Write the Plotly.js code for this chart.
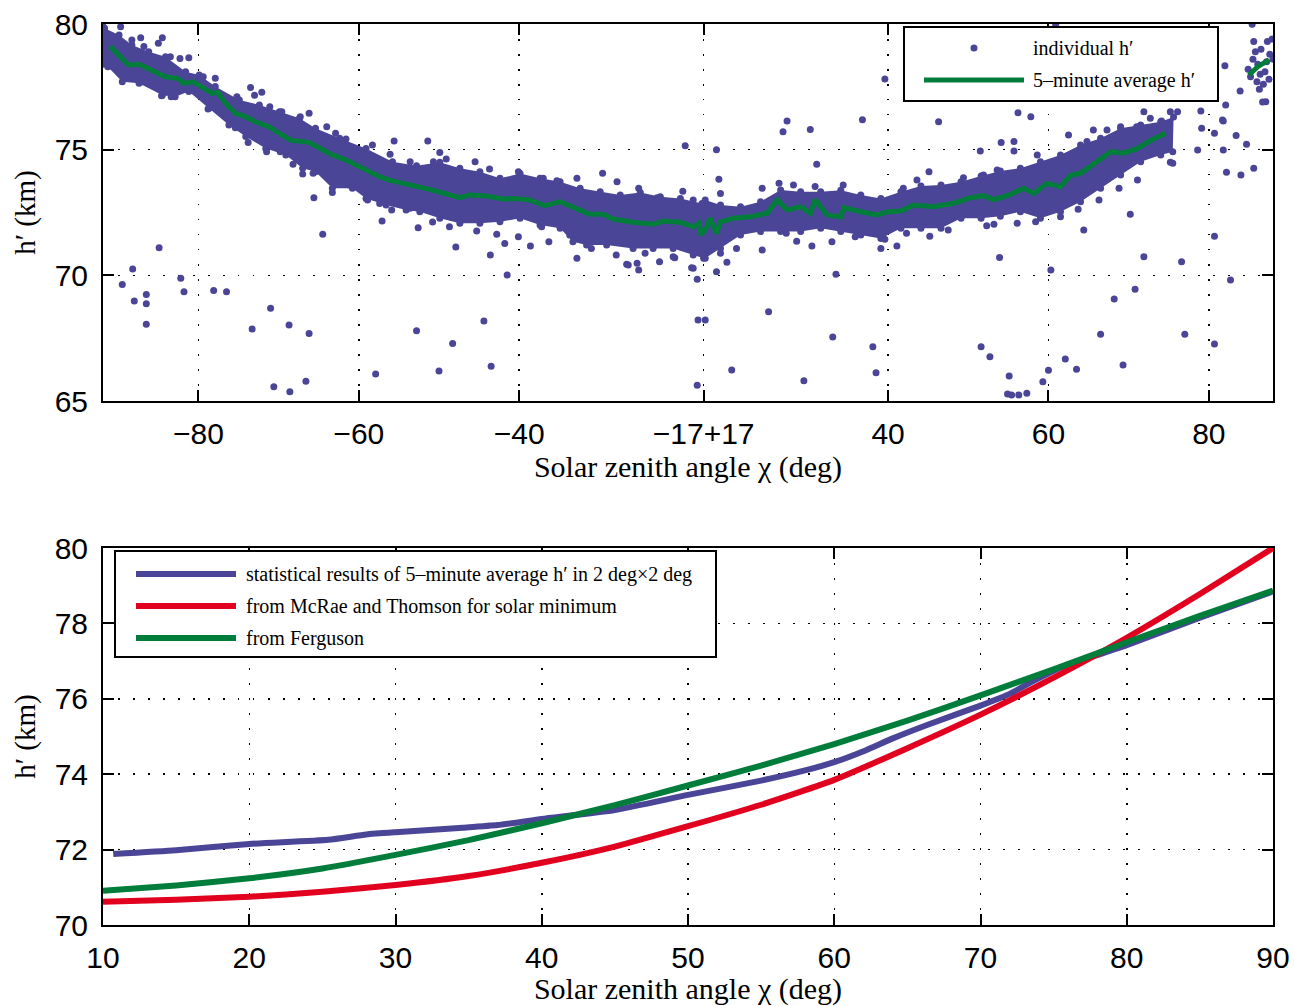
<!DOCTYPE html>
<html>
<head>
<meta charset="utf-8">
<script src="https://cdn.plot.ly/plotly-3.0.1.min.js"></script>
<style>html,body{margin:0;padding:0;background:#fff;}#chart{width:1294px;height:1006px;}</style>
</head>
<body>
<div id="chart"></div>
<script>
// ---------- Top panel: individual h' (dense band envelope) ----------
const bandUpperChi = [-91.9,-91.7,-89.9,-88.3,-86.2,-84.1,-81.6,-79.9,-77.9,-74.9,-72.4,-69.9,-67.4,-65.4,-62.4,-59.1,-55.8,-52.8,-49.9,-47.4,-44.9,-42.4,-39.9,-37.4,-34.9,-32.4,-29.9,-27.4,-24.9,-22.4,-19.9,-17.2,
  17.2,19.1,21.6,24.1,26.6,29.1,31.6,34.1,36.6,39.1,41.6,44.1,46.6,49.1,51.6,54.0,56.5,59.0,61.5,64.0,66.5,69.0,71.5,74.0,75.6];
const bandUpperH = [79.9,79.83,79.56,79.16,78.90,78.70,78.10,77.97,77.51,76.98,76.78,76.51,76.25,75.85,75.45,75.05,74.52,74.36,74.50,74.26,74.12,73.86,74.05,73.86,73.72,73.46,73.33,73.20,73.30,73.13,73.06,72.86,
  73.00,72.80,72.73,72.93,73.40,73.33,73.33,73.39,73.20,73.06,73.33,73.55,73.59,73.72,73.95,74.15,74.26,74.52,74.79,75.19,75.45,75.85,75.98,76.11,76.30];
const bandLowerChi = [-91.9,-91.3,-89.5,-87.4,-84.5,-82.9,-81.2,-78.7,-76.2,-74.1,-71.6,-69.1,-67.0,-65.4,-63.3,-60.8,-59.1,-56.6,-54.1,-52.4,-49.9,-47.4,-44.9,-42.4,-39.9,-37.4,-34.9,-33.3,-31.6,-29.1,-25.8,-23.3,-20.8,-18.3,-17.0,
  17.2,19.1,21.6,24.1,26.6,29.1,31.6,34.1,36.6,39.1,41.6,44.1,46.6,49.1,51.6,54.0,56.5,59.0,61.5,64.0,66.5,69.0,71.5,74.0,75.5];
const bandLowerH = [78.4,78.30,77.70,77.64,77.17,77.11,77.31,76.65,75.98,75.52,75.05,74.79,74.26,74.12,73.46,73.46,73.06,72.80,72.60,72.53,72.27,72.07,72.07,72.13,72.27,72.00,71.87,71.34,71.21,71.21,71.07,71.07,71.07,70.81,70.68,
  70.68,71.07,71.60,71.74,71.74,71.74,71.87,71.74,71.60,71.47,71.87,71.87,71.87,72.27,72.27,72.35,72.53,72.27,72.53,72.93,73.46,73.99,74.52,74.79,74.92];

// ---------- Top panel: individual h' points near band edges and outliers ----------
const pointChi = [
  -89.7,-87.2,-84.5,-81.2,-73.5,-72.1,-66.2,-62.9,-55.6,-84.9,-88.2,-89.5,-88.0,-86.5,-86.5,-86.5,-82.2,-81.8,-78.1,-76.5,
  -73.3,-71.0,-68.7,-66.2,-70.6,-68.6,-66.6,-57.9,-52.8,-64.5,-65.6,-57.1,-52.6,-67.0,-63.3,-73.8,-78.8,-51.4,-48.3,-50.0,
  -44.4,-43.5,-41.5,-47.9,-43.6,-36.3,-32.8,-26.6,-25.3,-25.1,-20.6,-18.3,-19.3,-17.8,-17.7,-17.8,
  17.2,18.6,18.6,18.9,19.9,20.5,25.1,26.9,27.4,29.5,30.3,30.5,31.1,33.1,33.5,36.8,38.1,38.5,39.1,39.6,41.1,46.3,51.5,51.6,
  52.7,53.9,54.1,54.9,55.1,55.4,55.7,56.2,56.3,57.3,57.8,59.3,60.0,60.3,60.9,62.1,63.5,63.7,64.4,66.5,68.2,69.3,70.2,70.8,
  71.9,71.9,75.2,75.2,76.1,76.6,77.0,78.6,79.0,79.1,80.7,80.7,80.7,81.7,81.8,81.8,82.0,82.1,82.2,82.7,83.4,83.9,84.0,84.7,
  85.4,85.6,87.1,
  84.9,85.2,85.5,85.6,86.0,86.1,86.3,86.5,86.7,86.8,87.0,87.3,87.5,87.6,87.9,88.0,85.8,86.4,87.2,
  -91.0,-86.9,-84.6,-83.4,-75.4,-73.3,-71.5,-69.8,-68.2,-65.7,-61.2,-58.9,-57.4,-55.9,-53.6,
  -91.4,-88.3,-86.8,-85.0,-83.5,-82.3,-79.4,-77.9,-75.2,-73.0,-71.1,-69.6,-67.3,-64.0,-61.6,-58.3,-56.1,-53.6,
  -50.8,-48.7,-45.3,-42.8,-41.8,-40.1,-38.6,-37.2,-33.7,-31.0,-29.1,-27.9,-26.4,-24.3,-22.5,-20.8,-18.5,
  -50.7,-49.9,-49.1,-45.5,-43.7,-40.1,-37.0,-35.3,-32.8,-29.6,-27.8,-25.1,-22.8,-19.6,-18.3,
  19.1,24.3,26.4,28.2,30.9,34.4,41.9,43.6,45.1,49.4,51.9,53.6,
  19.1,21.1,24.3,27.3,28.6,33.0,35.9,39.6,42.3,45.2,47.5,52.3,56.1,
  53.2,58.4,61.5,66.3,68.8,71.1,75.5,
  55.7,58.6,62.5,64.8,65.6,67.3,69.0,71.0,72.7,74.1
];
const pointH = [
  79.89,79.45,79.45,78.66,77.47,77.28,76.45,75.65,75.34,71.10,70.25,69.64,68.98,69.24,68.87,68.05,69.88,69.35,69.40,69.35,
  67.86,68.69,68.02,67.69,65.57,65.37,65.79,66.07,67.80,71.63,73.09,72.16,71.89,74.03,73.30,75.29,76.62,75.34,67.29,66.19,
  68.18,66.38,70.01,71.13,70.81,71.34,70.68,70.44,70.48,70.21,70.70,70.28,75.16,69.84,68.22,65.63,
  68.22,75.00,70.14,73.82,70.52,66.23,68.55,75.71,76.14,65.81,75.80,71.17,74.42,67.55,70.04,76.19,67.16,66.12,71.07,77.81,71.17,76.11,74.95,67.16,
  66.76,70.71,75.29,65.28,65.99,65.24,74.95,76.47,65.24,65.31,76.31,65.77,66.22,70.21,79.96,66.67,66.26,72.63,71.80,67.66,69.06,66.43,72.43,69.45,
  76.51,70.74,76.51,74.50,76.51,70.54,67.66,74.99,76.54,75.85,75.65,71.56,67.27,76.18,76.14,74.99,78.34,76.78,74.10,69.81,75.56,77.33,73.99,75.22,
  79.99,74.26,76.91,
  78.20,77.90,78.60,79.30,77.70,78.40,77.40,79.00,76.90,77.60,78.10,79.30,77.80,78.80,79.40,78.60,78.90,78.00,78.50,
  78.37,77.70,77.15,77.11,75.87,75.71,74.92,74.92,74.42,74.06,73.59,73.00,72.86,72.60,72.67,
  79.23,79.36,79.10,79.23,78.70,78.63,77.90,77.84,77.11,77.17,76.71,76.51,76.31,75.91,75.42,75.19,74.82,74.52,
  72.12,71.93,71.76,71.63,71.27,71.54,71.17,71.93,71.60,71.07,71.31,70.81,70.41,70.88,70.54,70.74,70.30,
  74.52,74.89,74.63,74.52,74.23,74.12,73.86,73.76,73.86,74.06,73.72,73.46,73.09,73.35,73.00,
  73.26,73.46,73.66,73.59,73.53,73.59,73.46,73.79,74.12,73.88,73.99,74.19,
  70.88,71.07,71.01,71.67,71.36,71.34,71.54,71.44,71.67,71.56,71.80,71.97,72.07,
  72.03,72.13,72.33,73.00,73.46,73.79,74.46,
  75.32,74.79,75.58,75.32,75.78,75.78,75.91,75.91,76.25,76.14
];

// ---------- Top panel: 5-minute average h' ----------
const avgChi = [-91.0,-88.7,-87.4,-85.8,-84.1,-82.6,-81.8,-80.6,-79.1,-78.3,-77.6,-76.6,-75.4,-74.1,-72.9,-71.2,-69.9,-68.5,-66.2,-64.9,-63.3,-61.6,-59.1,-57.4,-56.2,-54.9,-52.7,
  -50.8,-49.1,-47.4,-46.2,-44.1,-42.0,-40.4,-38.7,-36.8,-34.9,-32.8,-31.2,-29.5,-28.3,-25.8,-23.3,-22.0,-19.9,-18.3,-17.6,-17.3,
  17.3,17.8,18.6,19.1,20.7,22.8,24.9,26.2,27.4,29.1,30.3,30.9,32.4,34.1,34.5,36.6,38.6,39.9,41.6,43.2,45.7,48.2,50.3,51.9,53.2,55.1,56.9,58.2,59.8,61.5,62.8,64.0,66.1,67.8,69.4,71.1,72.8,74.6,
  null,85.0,86.1,87.5];
const avgH = [79.10,78.37,78.40,78.17,77.90,77.84,77.64,77.70,77.37,77.24,77.28,76.84,76.45,76.31,76.11,75.91,75.65,75.38,75.29,75.05,74.79,74.59,74.19,73.92,73.79,73.70,73.51,
  73.39,73.24,73.09,73.20,73.16,73.04,73.06,73.00,72.77,72.93,72.67,72.43,72.43,72.24,72.11,72.03,72.16,72.11,71.93,72.07,71.60,
  71.87,72.27,71.67,72.13,72.27,72.33,72.47,73.00,72.60,72.73,72.47,73.00,72.40,72.33,72.69,72.53,72.40,72.53,72.56,72.80,72.73,72.87,73.09,73.17,73.00,73.20,73.46,73.26,73.66,73.53,73.99,74.06,74.52,74.92,74.86,75.05,75.38,75.65,
  null,77.97,78.30,78.57];

const topTickChi = [-80,-60,-40,-17,40,60,80];
const topTickText = ['\u221280','\u221260','\u221240','\u221217+17','40','60','80'];

// ---------- Bottom panel ----------
const blueChi = [10.7,15,20,25.4,28,30,34.6,37,40,45,50,55,58,60,62,64,66.3,70,72,73.6,75.4,80,85,90];
const blueH   = [71.88,71.98,72.15,72.26,72.40,72.46,72.58,72.65,72.81,73.05,73.45,73.83,74.10,74.32,74.61,74.95,75.30,75.82,76.13,76.47,76.82,77.42,78.15,78.85];
const redChi = [10,15,20,25,30,35,40,45,50,55,60,65,70,75,80,85,90];
const redH   = [70.62,70.67,70.75,70.88,71.06,71.30,71.65,72.08,72.62,73.19,73.85,74.69,75.58,76.56,77.62,78.78,80.00];
const greenChi = [10,15,20,25,30,35,40,45,50,55,60,65,70,75,80,85,90];
const greenH   = [70.91,71.05,71.24,71.50,71.86,72.25,72.70,73.18,73.70,74.23,74.80,75.42,76.09,76.78,77.50,78.20,78.87];

const legendTopText = ['individual h\u2032', '5\u2013minute average h\u2032'];
const legendBottomText = ['statistical results of 5\u2013minute average h\u2032 in 2 deg\u00d72 deg',
  'from McRae and Thomson for solar minimum', 'from Ferguson'];

// ---------- colours ----------
const cBlue = '#4a4597', cGreen = '#007d3a', cRed = '#e2001f';

// folded axis: the range |chi| < 17 is cut out, -17 and +17 meet
const fold = c => (c === null ? null : (c < 0 ? c + 17 : c - 17));

const polyX = bandUpperChi.map(fold).concat(bandLowerChi.slice().reverse().map(fold));
const polyY = bandUpperH.concat(bandLowerH.slice().reverse());

const traces = [
  {type:'scatter', mode:'lines', x:polyX, y:polyY, fill:'toself', fillcolor:cBlue, line:{width:0, color:cBlue}, hoverinfo:'skip', xaxis:'x', yaxis:'y'},
  {type:'scatter', mode:'markers', x:bandUpperChi.map(fold).concat(bandLowerChi.map(fold)), y:bandUpperH.concat(bandLowerH),
    marker:{size:7, color:cBlue}, xaxis:'x', yaxis:'y'},
  {type:'scatter', mode:'markers', x:pointChi.map(fold), y:pointH, marker:{size:7, color:cBlue}, xaxis:'x', yaxis:'y', name:legendTopText[0]},
  {type:'scatter', mode:'lines', x:avgChi.map(fold), y:avgH, line:{color:cGreen, width:5}, connectgaps:false, xaxis:'x', yaxis:'y', name:legendTopText[1]},
  {type:'scatter', mode:'lines', x:blueChi, y:blueH, line:{color:cBlue, width:6, shape:'spline', smoothing:0.5}, xaxis:'x2', yaxis:'y2', name:legendBottomText[0]},
  {type:'scatter', mode:'lines', x:redChi, y:redH, line:{color:cRed, width:6, shape:'spline', smoothing:0.5}, xaxis:'x2', yaxis:'y2', name:legendBottomText[1]},
  {type:'scatter', mode:'lines', x:greenChi, y:greenH, line:{color:cGreen, width:6, shape:'spline', smoothing:0.5}, xaxis:'x2', yaxis:'y2', name:legendBottomText[2]}
];

const W = 1294, H = 1006;
const px = v => v / W, py = v => 1 - v / H;

const tickFont = {family:'Liberation Sans, Arial, sans-serif', size:30, color:'#000'};
const titleFont = {family:'Liberation Serif, Times New Roman, serif', size:30, color:'#000'};
const yTitleFont = {family:'Liberation Serif, Times New Roman, serif', size:29, color:'#000'};
const legFont = {family:'Liberation Serif, Times New Roman, serif', size:20, color:'#000'};
const axisStyle = {
  showline:true, linecolor:'#000', linewidth:2, mirror:'ticks',
  ticks:'inside', ticklen:11, tickwidth:2, tickcolor:'#000',
  showgrid:true, gridcolor:'#000', gridwidth:1.5, griddash:'1.5px,13.5px',
  zeroline:false, tickfont:tickFont, fixedrange:true
};

const xTitle = 'Solar zenith angle \u03c7 (deg)';
const yTitle = 'h\u2032 (km)';

const layout = {
  width:W, height:H, margin:{l:0, r:0, t:0, b:0},
  paper_bgcolor:'#fff', plot_bgcolor:'#fff', showlegend:false,
  xaxis: Object.assign({}, axisStyle, {
    domain:[px(103), px(1273)], range:[fold(-91.9), fold(88.0)], anchor:'y',
    tickmode:'array', tickvals:topTickChi.map(fold), ticktext:topTickText,
    ticklabelstandoff:5,
    title:{text:xTitle, font:titleFont, standoff:6}
  }),
  yaxis: Object.assign({}, axisStyle, {
    domain:[py(401), py(24)], range:[65,80], anchor:'x',
    tickmode:'array', tickvals:[65,70,75,80], ticklabelstandoff:7,
    title:{text:yTitle, font:yTitleFont, standoff:10}
  }),
  xaxis2: Object.assign({}, axisStyle, {
    domain:[px(103), px(1273)], range:[10,90], anchor:'y2',
    tickmode:'array', tickvals:[10,20,30,40,50,60,70,80,90], ticklabelstandoff:5,
    title:{text:xTitle, font:titleFont, standoff:6}
  }),
  yaxis2: Object.assign({}, axisStyle, {
    domain:[py(925), py(548)], range:[70,80], anchor:'x2',
    tickmode:'array', tickvals:[70,72,74,76,78,80], ticklabelstandoff:7,
    title:{text:yTitle, font:yTitleFont, standoff:10}
  }),
  shapes: [
    // top legend
    {type:'rect', xref:'paper', yref:'paper', x0:px(904), x1:px(1218), y0:py(101), y1:py(27), fillcolor:'#fff', line:{color:'#000', width:2}, layer:'above'},
    {type:'circle', xref:'paper', yref:'paper', x0:px(970.5), x1:px(977.5), y0:py(51.5), y1:py(44.5), fillcolor:cBlue, line:{width:0}, layer:'above'},
    {type:'line', xref:'paper', yref:'paper', x0:px(924), x1:px(1024), y0:py(80), y1:py(80), line:{color:cGreen, width:5}, layer:'above'},
    // bottom legend
    {type:'rect', xref:'paper', yref:'paper', x0:px(115), x1:px(716), y0:py(657), y1:py(551), fillcolor:'#fff', line:{color:'#000', width:2}, layer:'above'},
    {type:'line', xref:'paper', yref:'paper', x0:px(136), x1:px(236), y0:py(574), y1:py(574), line:{color:cBlue, width:6}, layer:'above'},
    {type:'line', xref:'paper', yref:'paper', x0:px(136), x1:px(236), y0:py(606), y1:py(606), line:{color:cRed, width:6}, layer:'above'},
    {type:'line', xref:'paper', yref:'paper', x0:px(136), x1:px(236), y0:py(638), y1:py(638), line:{color:cGreen, width:6}, layer:'above'}
  ],
  annotations: [
    {xref:'paper', yref:'paper', x:px(1031), y:py(48), xanchor:'left', yanchor:'middle', showarrow:false, text:legendTopText[0], font:legFont},
    {xref:'paper', yref:'paper', x:px(1031), y:py(81), xanchor:'left', yanchor:'middle', showarrow:false, text:legendTopText[1], font:legFont},
    {xref:'paper', yref:'paper', x:px(244), y:py(574), xanchor:'left', yanchor:'middle', showarrow:false, text:legendBottomText[0], font:legFont},
    {xref:'paper', yref:'paper', x:px(244), y:py(606), xanchor:'left', yanchor:'middle', showarrow:false, text:legendBottomText[1], font:legFont},
    {xref:'paper', yref:'paper', x:px(244), y:py(638), xanchor:'left', yanchor:'middle', showarrow:false, text:legendBottomText[2], font:legFont}
  ]
};

Plotly.newPlot('chart', traces, layout, {staticPlot:true, displayModeBar:false});
</script>
</body>
</html>
